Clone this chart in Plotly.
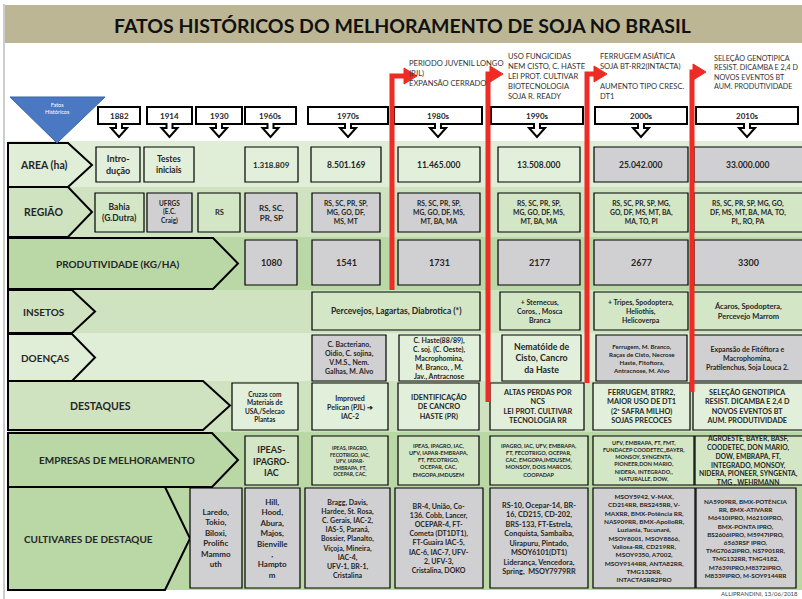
import plotly.graph_objects as go

# ---------------- DATA ----------------
title = "FATOS HISTÓRICOS DO MELHORAMENTO DE SOJA NO BRASIL"
corner_label = "Fatos\nHistóricos"
years = ["1882", "1914", "1930", "1960s", "1970s", "1980s", "1990s", "2000s", "2010s"]
row_labels = ["AREA (ha)", "REGIÃO", "PRODUTIVIDADE (KG/HA)", "INSETOS", "DOENÇAS",
              "DESTAQUES", "EMPRESAS DE MELHORAMENTO", "CULTIVARES DE DESTAQUE"]

area = ["Intro-\ndução", "Testes\niniciais", "", "1.318.809", "8.501.169",
        "11.465.000", "13.508.000", "25.042.000", "33.000.000"]
regiao = ["Bahia\n(G.Dutra)", "UFRGS\n(E.C.\nCraig)", "RS", "RS, SC,\nPR, SP",
          "RS, SC, PR, SP,\nMG, GO, DF,\nMS, MT",
          "RS, SC, PR, SP,\nMG, GO, DF, MS,\nMT, BA, MA",
          "RS, SC, PR, SP,\nMG, GO, DF, MS,\nMT, BA, MA",
          "RS, SC, PR, SP, MG,\nGO, DF, MS, MT, BA,\nMA, TO, PI",
          "RS, SC, PR, SP, MG, GO,\nDF, MS, MT, BA, MA, TO,\nPI,, RO, PA"]
produtividade = ["", "", "", "1080", "1541", "1731", "2177", "2677", "3300"]
insetos = ["", "", "", "", "Percevejos, Lagartas, Diabrotica (*)", "",
           "+ Sternecus,\nCoros, , Mosca\nBranca",
           "+ Tripes, Spodoptera,\nHeliothis,\nHelicoverpa",
           "Ácaros, Spodoptera,\nPercevejo Marrom"]
doencas = ["", "", "", "",
           "C. Bacteriano,\nOidio, C. sojina,\nV.M.S., Nem.\nGalhas, M. Alvo",
           "C. Haste(88/89),\nC. soj. (C. Oeste),\nMacrophomina,\nM. Branco, , M.\nJav., Antracnose",
           "Nematóide de\nCisto, Cancro\nda Haste",
           "Ferrugem, M. Branco,\nRaças de Cisto, Necrose\nHaste, Fitoftora,\nAntracnose, M. Alvo",
           "Expansão de Fitóftora e\nMacrophomina,\nPratilenchus, Soja Louca 2."]
destaques = ["", "", "", "Cruzas com\nMateriais de\nUSA,/Selecao\nPlantas",
             "Improved\nPelican (PJL) ➔\nIAC-2",
             "IDENTIFICAÇÃO\nDE CANCRO\nHASTE (PR)",
             "ALTAS PERDAS POR\nNCS\nLEI PROT. CULTIVAR\nTECNOLOGIA RR",
             "FERRUGEM, BTRR2,\nMAIOR USO DE DT1\n(2ª SAFRA MILHO)\nSOJAS PRECOCES",
             "SELEÇÃO GENOTIPICA\nRESIST. DICAMBA E 2,4 D\nNOVOS EVENTOS BT\nAUM. PRODUTIVIDADE"]
empresas = ["", "", "", "IPEAS-\nIPAGRO-\nIAC",
            "IPEAS, IPAGRO,\nFECOTRIGO, IAC,\nUFV, IAPAR-\nEMBRAPA, FT,\nOCEPAR, CAC,",
            "IPEAS, IPAGRO, IAC,\nUFV, IAPAR-EMBRAPA,\nFT, FECOTRIGO,\nOCEPAR, CAC,\nEMGOPA,IMDUSEM",
            "IPAGRO, IAC, UFV, EMBRAPA,\nFT, FECOTRIGO, OCEPAR,\nCAC, EMGOPA,IMDUSEM,\nMONSOY, DOIS MARCOS,\nCOOPADAP",
            "UFV, EMBRAPA, FT, FMT,\nFUNDACEP COODETEC,,BAYER,\nMONSOY, SYNGENTA,\nPIONEER,DON MARIO,\nNIDERA, INTEGRADO,,\nNATURALLE, DOW,",
            "AGROESTE, BAYER, BASF,\nCOODETEC, DON MARIO,\nDOW, EMBRAPA, FT,\nINTEGRADO, MONSOY,\nNIDERA, PIONEER, SYNGENTA,\nTMG , WEHRMANN"]
cultivares = ["", "",
              "Laredo,\nTokio,\nBiloxi,\nProlific\nMammo\nuth",
              "Hill,\nHood,\nAbura,\nMajos,\nBienville\n,\nHampto\nm",
              "Bragg, Davis,\nHardee, St. Rosa,\nC. Gerais, IAC-2,\nIAS-5, Paraná,\nBossier, Planalto,\nViçoja, Mineira,\nIAC-4,\nUFV-1, BR-1,\nCristalina",
              "BR-4, União, Co-\n136. Cobb, Lancer,\nOCEPAR-4, FT-\nCometa (DT1DT1),\nFT-Guaira IAC-5,\nIAC-6, IAC-7, UFV-\n2, UFV-3,\nCristalina, DOKO",
              "RS-10, Ocepar-14, BR-\n16, CD215, CD-202,\nBRS-133, FT-Estrela,\nConquista, Sambaiba,\nUirapuru, Pintado,\nMSOY6101(DT1)\nLiderança, Vencedora,\nSpring,  MSOY7979RR",
              "MSOY5942, V-MAX,\nCD214RR, BRS245RR, V-\nMAXRR, BMX-Potência RR,\nNAS909RR, BMX-ApolloRR,\nLuziania, Tucunaré,\nMSOY8001, MSOY8866,\nValiosa-RR, CD219RR,\nMSOY9350, A7002,\nMSOY9144RR, ANTA82RR,\nTMG132RR,\nINTACTASRR2PRO",
              "NA5909RR, BMX-POTÊNCIA\nRR, BMX-ATIVARR\nM6410IPRO, M6210IPRO,\nBMX-PONTA IPRO,\nBS2606IPRO, M5947IPRO,\n6563RSF IPRO,\nTMG7062IPRO, NS7901RR,\nTMG132RR, TMG4182,\nM7639IPRO,M8372IPRO,\nM8339IPRO, M-SOY9144RR"]
eventos = ["PERIODO JUVENIL LONGO\n(PJL)\nEXPANSÃO CERRADO",
           "USO FUNGICIDAS\nNEM CISTO, C. HASTE\nLEI PROT. CULTIVAR\nBIOTECNOLOGIA\nSOJA R. READY",
           "FERRUGEM ASIÁTICA\nSOJA BT-RR2(INTACTA)\n\nAUMENTO TIPO CRESC.\nDT1",
           "SELEÇÃO GENOTIPICA\nRESIST. DICAMBA E 2,4 D\nNOVOS EVENTOS BT\nAUM. PRODUTIVIDADE"]
credit = "ALLIPRANDINI, 13/06/2018"

# ---------------- LAYOUT / STYLE ----------------
FONT = "Lato, 'Open Sans', sans-serif"
TXT = "#262626"
LG = "#E2EFDA"   # light green
MG = "#D3E6C6"   # mid green
GR = "#D0D0D2"   # grey

hdr_x = [(98, 140), (147, 192), (196, 242), (245, 296), (308, 388),
         (394, 482), (491, 583), (595, 687), (696, 798)]
bands = [(141, 187, "#E0EED7"), (187, 237, "#CFE3C1"), (237, 290, "#BAD7A6"),
         (290, 333, "#CFE3C1"), (333, 381, "#E0EED7"), (381, 432, "#CFE3C1"),
         (432, 486, "#BAD7A6"), (486, 590, "#BAD7A6")]
# label pentagons: x0, body end, tip, y0, y1, text x, font size
label_geo = [(8, 68, 92, 143, 187, 44, 10.5), (8, 68, 92, 187, 237, 43, 10.5),
             (8, 213, 238, 238, 289, 117, 10), (8, 72, 95, 290, 333, 44, 10),
             (8, 72, 95, 334, 381, 45, 10), (8, 203, 230, 381, 430, 100, 10.5),
             (8, 212, 238, 433, 487, 117, 10), (8, 165, 190, 487, 590, 88, 10)]
# per row: y0, y1 and per column (x0, x1, fill, fontsize) (None = no box)
row_cells = [
    (147, 182, [(96, 140, LG, 9), (144, 194, LG, 8.5), None, (245, 298, LG, 8),
                (311, 381, LG, 8.5), (398, 480, LG, 8.5), (498, 580, LG, 8.5),
                (594, 688, GR, 8.5), (694, 805, GR, 8.5)]),
    (193, 232, [(95, 144, MG, 8.5), (147, 192, GR, 6.5), (198, 240, MG, 7.5),
                (245, 297, GR, 8), (312, 380, GR, 6.8), (398, 480, GR, 6.8),
                (498, 580, MG, 6.8), (594, 688, MG, 6.8), (694, 805, MG, 6.8)]),
    (240, 285, [None, None, None, (245, 297, GR, 9), (312, 380, GR, 9),
                (398, 480, GR, 9), (498, 580, GR, 9), (594, 688, GR, 9),
                (694, 805, GR, 9)]),
    (292, 330, [None, None, None, None, (312, 480, MG, 8.5), None,
                (500, 580, MG, 7), (594, 688, MG, 7), (693, 805, MG, 7.5)]),
    (335, 381, [None, None, None, None, (312, 386, GR, 7), (399, 480, LG, 7),
                (502, 581, LG, 8.8), (596, 687, GR, 6.2), (693, 805, GR, 7)]),
    (383, 430, [None, None, None, (232, 298, LG, 6.5), (312, 388, LG, 7),
                (398, 479, LG, 7.3), (490, 584, LG, 7.3), (593, 690, LG, 7.3),
                (693, 805, LG, 7.2)]),
    (436, 485, [None, None, None, (245, 298, MG, 9), (312, 388, MG, 5),
                (398, 479, MG, 5.5), (490, 588, MG, 5.5), (593, 694, MG, 5.5),
                (695, 805, MG, 6.8)]),
    (488, 588, [None, None, (190, 242, GR, 8), (245, 300, GR, 8), (305, 390, GR, 7),
                (395, 483, GR, 7), (490, 588, GR, 7.3), (593, 695, GR, 6.4),
                (696, 796, GR, 6.3)]),
]
row_data = [area, regiao, produtividade, insetos, doencas, destaques, empresas, cultivares]

# red timeline arrows: x, bottom, top, tip ; text x, text top, text size
red_arrows = [(392, 290, 76, 417, 407, 56, 7.6), (488, 402, 74, 503, 506, 49, 7.6),
              (587, 383, 74, 607, 598, 49, 7.6), (692, 392, 72, 706, 712, 52, 7.2)]

shapes, anns = [], []


def rect(x0, y0, x1, y1, fill, line="black", lw=1.2):
    shapes.append(dict(type="rect", xref="x", yref="y", x0=x0, y0=y0, x1=x1, y1=y1,
                       fillcolor=fill, line=dict(color=line, width=lw), layer="above"))


def path(d, fill, line="black", lw=1.5):
    shapes.append(dict(type="path", xref="x", yref="y", path=d, fillcolor=fill,
                       line=dict(color=line, width=lw), layer="above"))


def text(x, y, s, size, color=TXT, xanchor="center", yanchor="middle", align="center",
         weight="bold", family=FONT):
    anns.append(dict(x=x, y=y, xref="x", yref="y", text=s.replace("\n", "<br>"),
                     showarrow=False, xanchor=xanchor, yanchor=yanchor, align=align,
                     font=dict(family=family, size=size, color=color, weight=weight)))


# slide border line
shapes.append(dict(type="line", xref="x", yref="y", x0=4, x1=4, y0=4, y1=599,
                   line=dict(color="#9a9a9a", width=1)))
# title bar
rect(5, 5, 802, 43, "#BCB695", line="#BCB695", lw=0)
text(402, 25, title, 19.5, color="#111", weight="bold",
     family="'Liberation Sans Narrow', 'Arial Narrow', Lato, sans-serif")

# bands
for y0, y1, c in bands:
    rect(8, y0, 802, y1, c, line=c, lw=0)

# row label pentagons
for (x0, xb, xt, y0, y1, tx, fs), lab, (by0, by1, bc) in zip(label_geo, row_labels, bands):
    ym = (y0 + y1) / 2
    path(f"M {x0},{y0} L {xb},{y0} L {xt},{ym} L {xb},{y1} L {x0},{y1} Z", bc, lw=2)
    text(tx, ym, lab, fs)

# corner triangle
path("M 10,97 L 105,97 L 57,143 Z", "#4A78C2", line="#3A62A8", lw=1)
text(57, 108, corner_label, 5.5, color="white", weight="normal")

# header callout boxes with down arrows
for (x0, x1), yr in zip(hdr_x, years):
    cx = (x0 + x1) / 2
    y0, y1, y2, y3 = 107, 124, 128, 137
    d = (f"M {x0},{y0} L {x1},{y0} L {x1},{y1} L {cx+3},{y1} L {cx+3},{y2} "
         f"L {cx+8},{y2} L {cx},{y3} L {cx-8},{y2} L {cx-3},{y2} L {cx-3},{y1} "
         f"L {x0},{y1} Z")
    path(d, "white", lw=2)
    text(cx, 115.5, yr, 8)

# cells
for (y0, y1, cells), vals in zip(row_cells, row_data):
    for cell, v in zip(cells, vals):
        if cell is None:
            continue
        x0, x1, fill, fs = cell
        rect(x0, y0, x1, y1, fill)
        if v:
            text((x0 + min(x1, 802)) / 2, (y0 + y1) / 2, v, fs)

# red timeline arrows and event texts
for (x, yb, yt, tip, tx, ty, fs), ev in zip(red_arrows, eventos):
    shapes.append(dict(type="path", xref="x", yref="y",
                       path=f"M {x},{yb} L {x},{yt} L {tip-11},{yt}",
                       line=dict(color="#EE2B24", width=5), layer="above"))
    path(f"M {tip-13},{yt-8} L {tip},{yt} L {tip-13},{yt+8} Z", "#EE2B24",
         line="#EE2B24", lw=1)
    text(tx, ty, ev, fs, color="#333", xanchor="left", yanchor="top", align="left",
         weight="normal")

# credit
text(800, 593, credit, 6, color="#444", xanchor="right", weight="normal")

fig = go.Figure()
fig.update_layout(
    width=802, height=599, margin=dict(l=0, r=0, t=0, b=0),
    paper_bgcolor="white", plot_bgcolor="white", showlegend=False,
    xaxis=dict(range=[0, 802], visible=False, fixedrange=True),
    yaxis=dict(range=[599, 0], visible=False, fixedrange=True),
    shapes=shapes, annotations=anns,
)
fig.write_html("out.html", config={"displayModeBar": False},
               post_script="document.body.style.margin='0px';"
                           "document.body.style.overflow='hidden';")
